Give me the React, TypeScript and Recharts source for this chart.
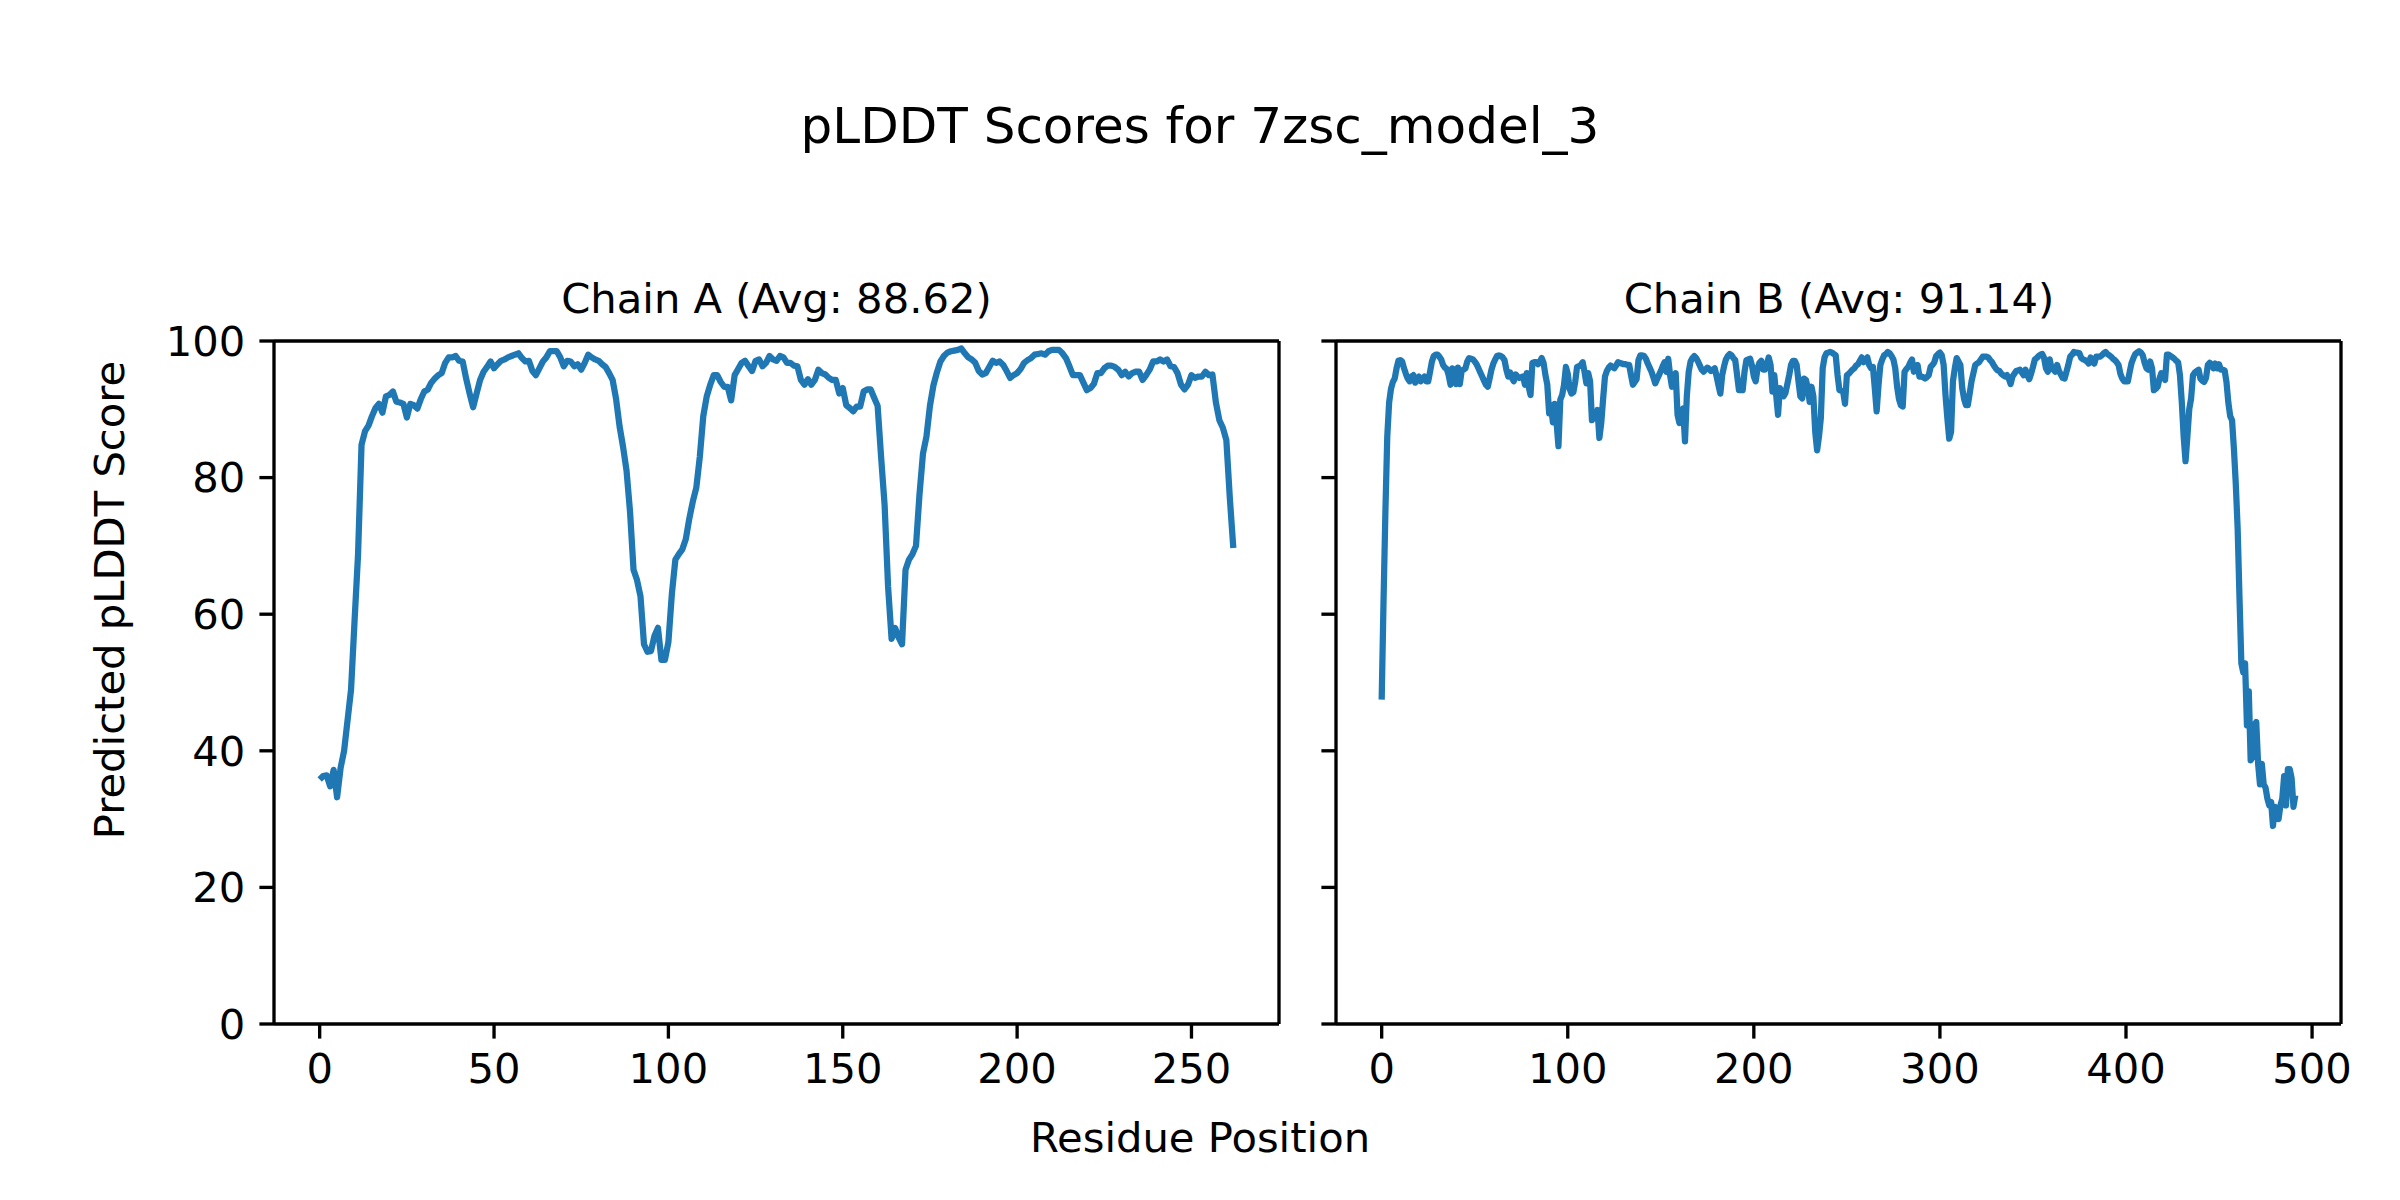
import { LineChart, Line, XAxis, YAxis } from 'recharts'

// pLDDT per residue
const chainAScores = [
  35.8, 36.3, 36.4, 34.8, 37.2, 33.2, 37.5, 40, 44.5, 49,
  59, 68.7, 84.8, 86.8, 87.6, 89, 90.2, 90.8, 89.5, 91.9,
  92.1, 92.6, 91.1, 91, 90.8, 88.8, 90.8, 90.6, 90.1, 91.5,
  92.6, 92.9, 93.9, 94.5, 95, 95.3, 96.8, 97.6, 97.6, 97.8,
  97.1, 97, 94.5, 92.3, 90.3, 92.3, 94.3, 95.5, 96.2, 97,
  96, 96.6, 97.1, 97.3, 97.6, 97.8, 98, 98.2, 97.5, 97,
  97.1, 95.6, 95, 96, 97, 97.6, 98.5, 98.5, 98.5, 97.6,
  96.3, 97.1, 97, 96.3, 96.6, 95.8, 96.8, 98, 97.6, 97.3,
  97.1, 96.6, 96.2, 95.3, 94.3, 91.5, 87.5, 84.5, 81, 75,
  66.5, 65, 62.6, 55.6, 54.5, 54.6, 56.8, 58, 53.3, 53.3,
  55.9, 63, 68, 68.8, 69.5, 71, 74, 76.5, 78.5, 83,
  89, 91.9, 93.6, 95, 95, 94, 93.3, 93.3, 91.3, 95,
  95.9, 96.8, 97.1, 96.3, 95.6, 97.1, 97.3, 96.3, 96.8, 97.8,
  97.3, 97.1, 97.8, 97.6, 96.8, 96.8, 96.4, 96.3, 94.3, 93.6,
  94.4, 93.6, 94.3, 95.8, 95.3, 95.1, 94.6, 94.3, 94.3, 92.3,
  93.1, 90.6, 90.2, 89.7, 90.4, 90.4, 92.6, 92.9, 92.9, 91.7,
  90.5, 83, 76, 64, 56.4, 58, 56.6, 55.6, 66.5, 68,
  68.8, 70, 77.5, 83.5, 86, 90.5, 93.5, 95.4, 97, 97.8,
  98.3, 98.5, 98.6, 98.7, 98.9, 98.2, 97.6, 97.3, 96.8, 95.6,
  95.1, 95.3, 96.2, 97.1, 96.8, 97, 96.5, 95.6, 94.6, 95,
  95.3, 95.9, 96.8, 97.2, 97.5, 98, 98.1, 98.2, 98, 98.5,
  98.7, 98.7, 98.7, 98.2, 97.5, 96.3, 95, 95, 95, 93.9,
  92.8, 93.1, 93.7, 95.3, 95.3, 96, 96.4, 96.4, 96.2, 95.8,
  95, 95.5, 94.8, 95.3, 95.5, 95.5, 94.3, 95, 95.8, 97,
  97, 97.3, 97, 97.3, 96.3, 96.2, 95.3, 93.6, 92.9, 93.6,
  95, 94.6, 94.8, 94.8, 95.5, 95, 95.1, 91, 88.4, 87.3,
  85.5, 77, 69.7,
]

const chainBScores = [
  47.5, 62, 75, 86, 91, 93, 94, 94.5, 96, 97.1,
  97.2, 97, 96, 95.2, 94.5, 94.1, 94.8, 95, 93.9, 94.4,
  94.8, 94.1, 94.5, 94.8, 94.1, 94.1, 95.5, 97, 97.8, 98,
  98, 97.7, 97.3, 96.5, 96.1, 95.9, 95, 93.6, 96, 94.5,
  93.7, 96.1, 93.7, 95.7, 95.8, 96, 97, 97.5, 97.4, 97.3,
  97, 96.6, 96, 95.4, 94.8, 94.2, 93.6, 93.3, 94.5, 95.8,
  96.7, 97.3, 97.8, 97.9, 97.8, 97.6, 97.2, 95.8, 94.8, 95.4,
  94.6, 94.1, 95.1, 94.8, 94.6, 94.7, 94.8, 93.6, 95.3, 93.3,
  92.1, 96.8, 96.9, 96.9, 96.6, 97, 97.5, 96.8, 95, 93.6,
  89.4, 90.6, 88.1, 90.8, 88, 84.6, 91.4, 92.1, 93.6, 96.2,
  95.2, 93, 92.3, 92.5, 94, 96.2, 96.3, 96.5, 96.9, 95.5,
  93.8, 95.3, 94.1, 88.4, 89.5, 88.7, 89.9, 85.8, 88, 91.5,
  94.8, 95.6, 96.1, 96.4, 96.2, 96, 96.4, 96.9, 96.8, 96.7,
  96.6, 96.6, 96.5, 96.5, 95, 93.6, 94, 94.4, 97.2, 97.9,
  97.9, 97.8, 97.4, 96.7, 96.1, 95.5, 94.7, 93.8, 94.4, 95,
  95.6, 96.3, 96.9, 95.5, 97.4, 95, 93.3, 94.5, 95.3, 89.2,
  88, 89.5, 90.1, 85.3, 92, 95.5, 97, 97.5, 97.8, 97.5,
  97, 96.4, 95.8, 95.5, 95.8, 96.1, 95.9, 95.6, 95.8, 96,
  94.8, 93.5, 92.3, 95, 96.3, 97.3, 97.8, 98.1, 97.9, 97.5,
  97.2, 95, 92.8, 92.8, 92.8, 95.5, 97.2, 97.3, 97.4, 96.4,
  94.8, 94.1, 96, 96.8, 97.1, 95.8, 95.8, 96.6, 97.6, 96.5,
  92.6, 95, 92.1, 89.2, 93.1, 92.5, 91.9, 92.4, 93.7, 95,
  96.5, 97.1, 97.1, 96.5, 94.1, 91.9, 91.6, 94.5, 94.3, 93.1,
  91.1, 93.3, 91.9, 86.7, 84, 86, 88.7, 96, 97.6, 98.2,
  98.3, 98.4, 98.3, 98.1, 97.9, 95, 92.8, 92.7, 92.6, 90.8,
  95, 95.2, 95.5, 95.8, 96, 96.4, 96.6, 97.1, 97.6, 96.9,
  97.2, 97.6, 96.5, 96, 96.2, 93.1, 89.7, 93.5, 96.5, 97.3,
  97.9, 98.1, 98.4, 98.2, 97.8, 97.3, 96, 93.3, 91.5, 90.6,
  90.4, 95.5, 95.9, 96.2, 96.8, 97.3, 95.5, 96, 96.5, 94.8,
  94.8, 94.7, 94.5, 94.7, 95, 96.2, 96.5, 96.9, 97.8, 98.1,
  98.3, 97.9, 96.5, 92.1, 88.7, 85.7, 86.7, 94.1, 96, 97.5,
  97, 96.5, 93.1, 91.5, 90.6, 90.6, 92.3, 94.1, 95.3, 96.5,
  96.7, 96.9, 97.3, 97.7, 97.7, 97.7, 97.6, 97.2, 96.9, 96.4,
  96, 95.7, 95.6, 95.2, 95, 94.8, 95, 94.5, 93.7, 94.8,
  95.2, 95.6, 95.7, 95.8, 95.4, 95, 95.8, 95, 94.4, 95.2,
  96.2, 97.3, 97.5, 97.8, 98, 98.1, 97.5, 96, 95.5, 97.3,
  96, 95.8, 95.5, 96.5, 95.6, 95.1, 94.6, 94.5, 95.5, 96.5,
  97.7, 98, 98.4, 98.3, 98.3, 98.2, 97.5, 97.3, 97.2, 97,
  96.7, 97.6, 97, 96.7, 97.7, 97.7, 97.7, 97.9, 98.2, 98.4,
  98.1, 97.9, 97.7, 97.4, 97.2, 96.9, 96.5, 95.2, 94.5, 94.1,
  94.1, 94.1, 95.5, 96.8, 97.5, 98.1, 98.3, 98.5, 98.3, 97.9,
  96.8, 96, 95.8, 97, 96, 92.8, 93, 93.3, 94.5, 95.3,
  95.2, 94.3, 98, 98, 97.8, 97.6, 97.4, 97.1, 96.9, 95,
  91, 86, 82.4, 86, 90, 91.6, 95, 95.4, 95.6, 95.8,
  94.5, 94.2, 94, 94.6, 96.5, 96.8, 96.6, 96, 96.7, 96,
  96.6, 95.8, 95.8, 95.7, 94, 91, 89, 88.4, 84.2, 79.1,
  72.6, 62.4, 52.8, 51.5, 52.8, 43.7, 48.7, 38.6, 39.1, 43.7,
  44.2, 38.1, 35.1, 38.1, 35.1, 34.6, 33, 32, 32.5, 29,
  31.8, 31, 30, 32, 33, 36.3, 32, 37.3, 37.3, 36,
  31.8, 33.5,
]

const chainATicks = [0, 50, 100, 150, 200, 250]
const chainBTicks = [0, 100, 200, 300, 400, 500]
const scoreTicks = [0, 20, 40, 60, 80, 100]

const chainAData = chainAScores.map((score, i) => ({ residue: i, score }))
const chainBData = chainBScores.map((score, i) => ({ residue: i, score }))

const FONT = '"DejaVu Sans", sans-serif'
const TICK_FONT = 41.7
const SPINE = 3.33

const tickStyle = { fill: '#000', fontSize: TICK_FONT, fontFamily: FONT }
const lineStyle = { stroke: '#000', strokeWidth: SPINE }

interface PanelProps {
  data: { residue: number; score: number }[]
  domain: [number, number]
  ticks: number[]
  showYLabels: boolean
}

// one subplot: plot area is 1005 x 683, offset (140, 40) inside the chart
function Panel({ data, domain, ticks, showYLabels }: PanelProps) {
  return (
    <LineChart width={1165} height={823} data={data} margin={{ top: 39, right: 19, bottom: 0, left: 0 }}>
      <XAxis
        dataKey="residue"
        type="number"
        domain={domain}
        ticks={ticks}
        interval={0}
        allowDataOverflow
        height={100}
        tickSize={14.6}
        tickMargin={14.4}
        tick={tickStyle}
        axisLine={lineStyle}
        tickLine={lineStyle}
      />
      {/* top and right spines */}
      <XAxis
        xAxisId="top"
        orientation="top"
        dataKey="residue"
        type="number"
        domain={domain}
        allowDataOverflow
        height={1}
        tick={false}
        tickLine={false}
        axisLine={lineStyle}
      />
      <YAxis
        type="number"
        domain={[0, 100]}
        ticks={scoreTicks}
        interval={0}
        width={140}
        tickSize={14.6}
        tickMargin={14}
        tick={tickStyle}
        tickFormatter={showYLabels ? undefined : () => ''}
        axisLine={lineStyle}
        tickLine={lineStyle}
      />
      <YAxis
        yAxisId="right"
        orientation="right"
        type="number"
        domain={[0, 100]}
        width={1}
        tick={false}
        tickLine={false}
        axisLine={lineStyle}
      />
      <Line
        dataKey="score"
        type="linear"
        stroke="#1f77b4"
        strokeWidth={6.25}
        strokeLinejoin="round"
        dot={false}
        activeDot={false}
        isAnimationActive={false}
      />
    </LineChart>
  )
}

export default function App() {
  return (
    <div style={{ position: 'absolute', left: 0, top: 0, width: 2400, height: 1200, background: '#fff' }}>
      <div style={{ position: 'absolute', left: 134, top: 301 }}>
        <Panel data={chainAData} domain={[-13.1, 275.1]} ticks={chainATicks} showYLabels />
      </div>
      <div style={{ position: 'absolute', left: 1196, top: 301 }}>
        <Panel data={chainBData} domain={[-24.55, 515.55]} ticks={chainBTicks} showYLabels={false} />
      </div>
      <svg width={2400} height={1200} style={{ position: 'absolute', left: 0, top: 0, pointerEvents: 'none' }}>
        <g fontFamily={FONT} fill="#000" textAnchor="middle">
          <text x={1200} y={143} fontSize={50}>pLDDT Scores for 7zsc_model_3</text>
          <text x={776.5} y={313} fontSize={41.7}>Chain A (Avg: 88.62)</text>
          <text x={1839} y={313} fontSize={41.7}>Chain B (Avg: 91.14)</text>
          <text x={1200} y={1152} fontSize={41.7}>Residue Position</text>
          <text x={124} y={600} fontSize={41.7} transform="rotate(-90 124 600)">Predicted pLDDT Score</text>
        </g>
      </svg>
    </div>
  )
}
